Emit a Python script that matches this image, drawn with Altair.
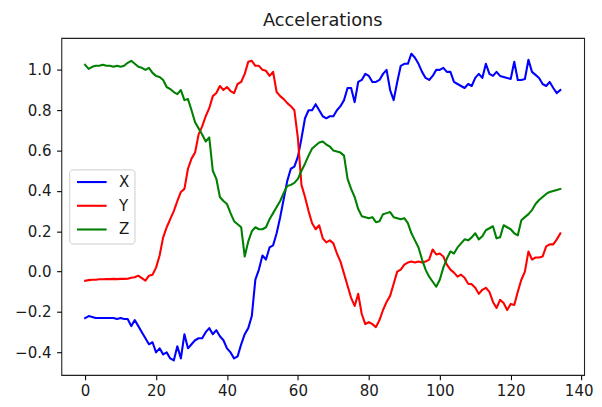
import altair as alt
import pandas as pd

x_vals = [
    -0.23, -0.22, -0.225, -0.23, -0.23, -0.23, -0.23, -0.23, -0.23, -0.235,
    -0.23, -0.235, -0.235, -0.27, -0.24, -0.27, -0.30, -0.33, -0.36, -0.35,
    -0.40, -0.38, -0.41, -0.40, -0.43, -0.44, -0.37, -0.43, -0.31, -0.38,
    -0.36, -0.34, -0.33, -0.33, -0.30, -0.28, -0.31, -0.29, -0.32, -0.34,
    -0.38, -0.40, -0.43, -0.42, -0.36, -0.31, -0.28, -0.22, -0.04, 0.01,
    0.08, 0.06, 0.12, 0.13, 0.19, 0.27, 0.36, 0.45, 0.51, 0.52,
    0.57, 0.66, 0.76, 0.80, 0.80, 0.83, 0.80, 0.77, 0.76, 0.77,
    0.77, 0.80, 0.82, 0.85, 0.91, 0.91, 0.84, 0.94, 0.95, 0.98,
    0.97, 0.94, 0.94, 0.95, 0.98, 1.00, 0.90, 0.85, 0.94, 1.02,
    1.03, 1.03, 1.08, 1.06, 1.03, 0.99, 0.96, 0.95, 0.97, 1.00,
    1.00, 1.01, 0.99, 0.99, 0.94, 0.93, 0.92, 0.91, 0.93, 0.92,
    0.96, 0.98, 0.96, 1.03, 0.98, 0.97, 0.99, 0.97, 0.965, 0.96,
    0.955, 1.04, 0.95, 0.95, 0.955, 1.05, 0.99, 0.975, 0.96, 0.93,
    0.92, 0.94, 0.91, 0.885, 0.90,
]

y_vals = [
    -0.045, -0.042, -0.04, -0.04, -0.038, -0.038, -0.037, -0.037, -0.036, -0.037,
    -0.036, -0.036, -0.035, -0.03, -0.028, -0.02, -0.032, -0.045, -0.02, -0.015,
    0.02, 0.08, 0.17, 0.22, 0.26, 0.30, 0.35, 0.395, 0.41, 0.51,
    0.56, 0.59, 0.68, 0.72, 0.77, 0.81, 0.87, 0.885, 0.92, 0.90,
    0.915, 0.895, 0.885, 0.93, 0.94, 0.98, 1.04, 1.045, 1.02, 1.02,
    1.00, 0.995, 0.97, 0.99, 0.89, 0.87, 0.855, 0.835, 0.82, 0.80,
    0.66, 0.43, 0.37, 0.30, 0.24, 0.21, 0.23, 0.165, 0.145, 0.155,
    0.14, 0.09, 0.05, -0.01, -0.07, -0.13, -0.17, -0.11, -0.21, -0.26,
    -0.25, -0.26, -0.275, -0.24, -0.19, -0.15, -0.12, -0.06, 0.0, 0.01,
    0.035, 0.045, 0.05, 0.045, 0.05, 0.045, 0.05, 0.06, 0.11, 0.085,
    0.09, 0.075, 0.035, 0.01, -0.005, -0.025, -0.015, -0.03, -0.06, -0.062,
    -0.08, -0.11, -0.09, -0.08, -0.10, -0.15, -0.18, -0.14, -0.155, -0.19,
    -0.16, -0.165, -0.10, -0.04, 0.0, 0.10, 0.06, 0.07, 0.07, 0.075,
    0.125, 0.135, 0.135, 0.16, 0.19,
]

z_vals = [
    1.025, 1.005, 1.015, 1.02, 1.02, 1.025, 1.02, 1.02, 1.015, 1.02,
    1.015, 1.02, 1.035, 1.045, 1.03, 1.015, 1.01, 1.0, 1.01, 0.985,
    0.97, 0.965, 0.95, 0.915, 0.905, 0.89, 0.88, 0.90, 0.85, 0.855,
    0.80, 0.74, 0.71, 0.68, 0.645, 0.665, 0.50, 0.46, 0.37, 0.35,
    0.335, 0.29, 0.25, 0.235, 0.22, 0.075, 0.15, 0.20, 0.22, 0.21,
    0.21, 0.22, 0.26, 0.29, 0.32, 0.35, 0.39, 0.425, 0.43, 0.44,
    0.46, 0.50, 0.535, 0.575, 0.61, 0.625, 0.64, 0.645, 0.63, 0.62,
    0.60, 0.595, 0.59, 0.575, 0.46, 0.41, 0.37, 0.31, 0.275, 0.27,
    0.265, 0.27, 0.245, 0.25, 0.285, 0.29, 0.295, 0.27, 0.265, 0.26,
    0.265, 0.24, 0.19, 0.155, 0.12, 0.06, 0.01, -0.025, -0.05, -0.075,
    -0.04, 0.02, 0.065, 0.10, 0.09, 0.12, 0.14, 0.16, 0.155, 0.17,
    0.19, 0.16, 0.175, 0.205, 0.215, 0.225, 0.165, 0.17, 0.23, 0.22,
    0.21, 0.19, 0.18, 0.255, 0.27, 0.285, 0.305, 0.335, 0.355, 0.37,
    0.385, 0.395, 0.40, 0.405, 0.41,
]

series_names = ["X", "Y", "Z"]
series_colors = ["blue", "red", "green"]
x_ticks = [0, 20, 40, 60, 80, 100, 120, 140]
y_ticks = [-0.4, -0.2, 0.0, 0.2, 0.4, 0.6, 0.8, 1.0]

frames = []
for name, vals in zip(series_names, [x_vals, y_vals, z_vals]):
    frames.append(pd.DataFrame({"t": list(range(len(vals))), "value": vals, "series": name}))
df = pd.concat(frames, ignore_index=True)

FONT = "DejaVu Sans"
LABEL_SIZE = 15.2

chart = (
    alt.Chart(df)
    .mark_line(strokeWidth=2.1, strokeJoin="round", strokeCap="square")
    .encode(
        x=alt.X(
            "t:Q",
            scale=alt.Scale(domain=[-6.7, 140.7], nice=False, zero=False),
            axis=alt.Axis(values=x_ticks, format="d", title=None, grid=False, domain=False,
                          tickSize=4.8, tickColor="black", tickWidth=1.1,
                          labelFontSize=LABEL_SIZE, labelFont=FONT, labelColor="#1a1a1a",
                          labelPadding=4.2, labelFlush=False,
                          labelOffset={"expr": "datum.value == 140 ? -3 : 0"}),
        ),
        y=alt.Y(
            "value:Q",
            scale=alt.Scale(domain=[-0.512, 1.158], nice=False, zero=False),
            axis=alt.Axis(values=y_ticks, format=".1f", title=None, grid=False, domain=False,
                          tickSize=4.8, tickColor="black", tickWidth=1.1,
                          labelFontSize=LABEL_SIZE, labelFont=FONT, labelColor="#1a1a1a",
                          labelPadding=5.6, labelFlush=False),
        ),
        color=alt.Color(
            "series:N",
            scale=alt.Scale(domain=series_names, range=series_colors),
            legend=alt.Legend(
                title=None, orient="none", legendX=8, legendY=133,
                symbolType="M-1,0H5", symbolSize=100, symbolStrokeWidth=2.1,
                labelFontSize=LABEL_SIZE, labelFont=FONT, labelColor="#1a1a1a",
                strokeColor="#cccccc", fillColor="rgba(255,255,255,0.8)",
                cornerRadius=3, padding=5.2, rowPadding=8.0, labelOffset=29.8,
            ),
        ),
    )
    .properties(
        width=529,
        height=341,
        title=alt.TitleParams(text="Accelerations", font=FONT, fontSize=18,
                              fontWeight="normal", color="#1a1a1a", anchor="middle",
                              offset=-5.5, baseline="alphabetic"),
        padding={"left": 54, "top": 28, "right": 10, "bottom": 22},
        autosize=alt.AutoSizeParams(type="none"),
    )
    .configure_view(stroke="#222222", strokeWidth=1.1)
)

chart.save("out.html", embed_options={"renderer": "svg", "actions": False})
